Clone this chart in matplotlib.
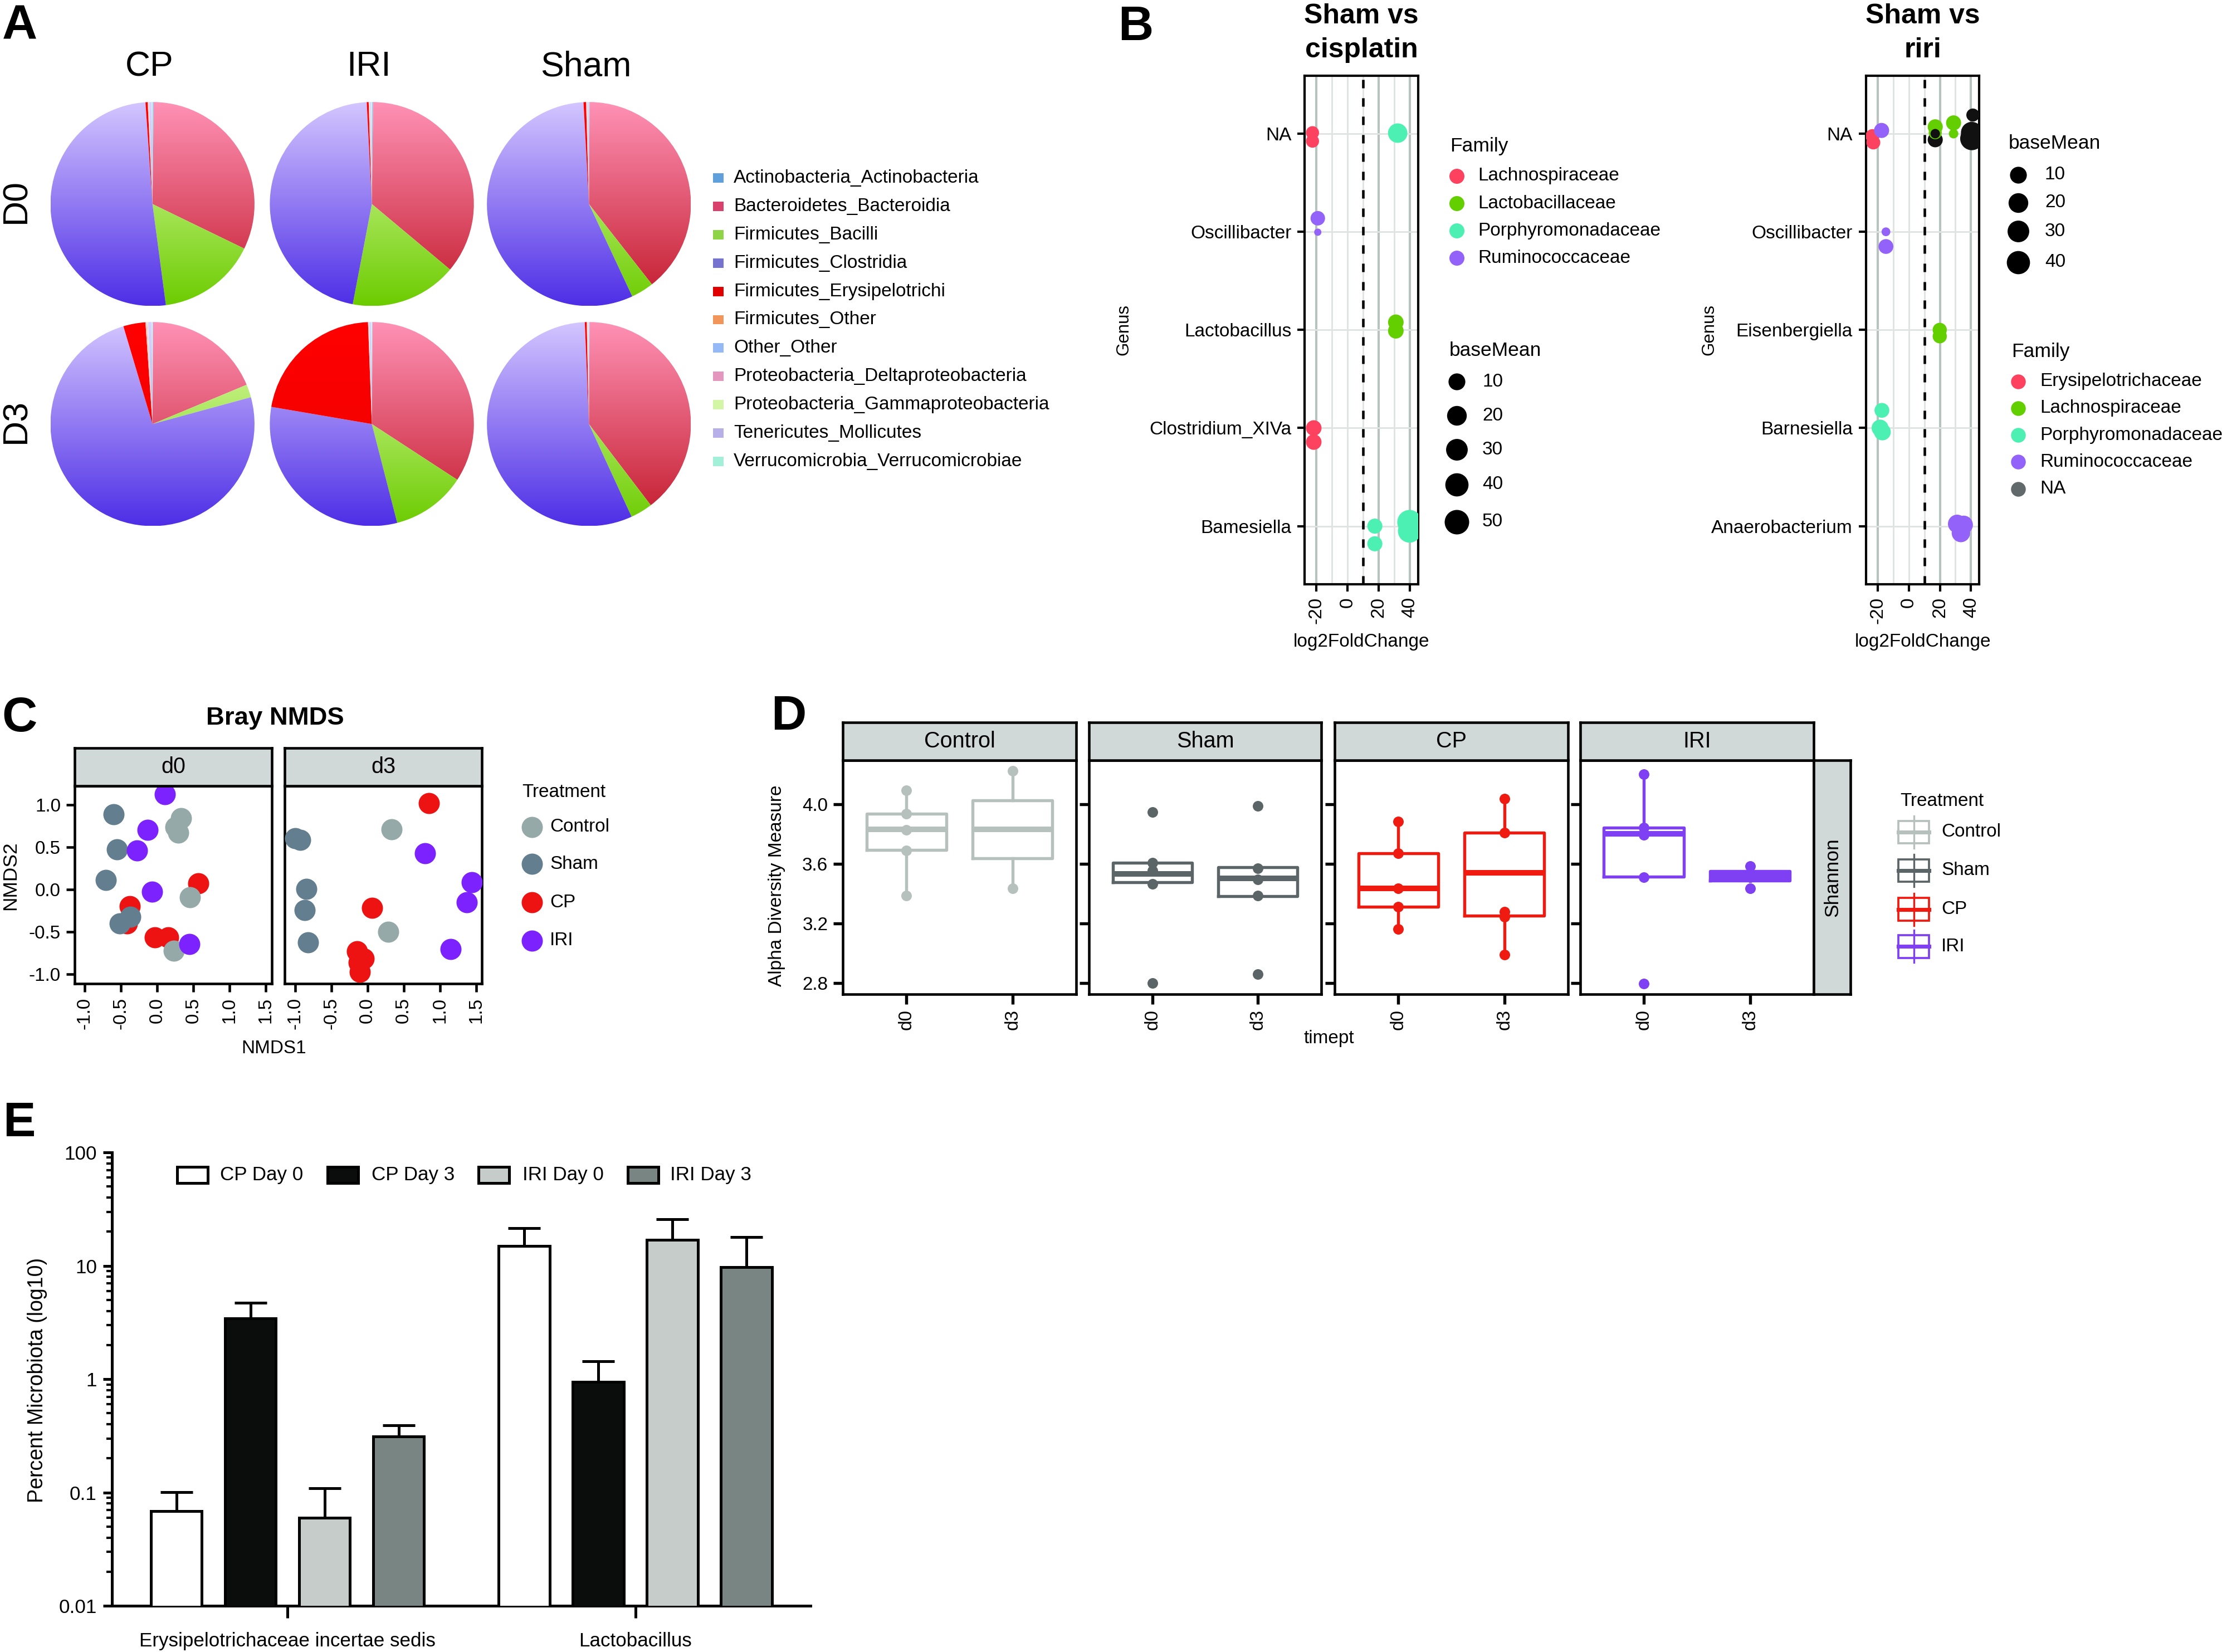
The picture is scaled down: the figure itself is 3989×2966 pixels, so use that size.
import numpy as np
import matplotlib
matplotlib.use("Agg")
import matplotlib.pyplot as plt
from matplotlib import font_manager
from matplotlib.patches import Rectangle
from matplotlib.lines import Line2D
from matplotlib.colors import to_rgb
from matplotlib.ticker import LogLocator, NullFormatter

# ---------------- data ----------------
# A: phylum_class composition (percent), clockwise from 12 o'clock
taxa = ["Actinobacteria_Actinobacteria", "Bacteroidetes_Bacteroidia", "Firmicutes_Bacilli",
        "Firmicutes_Clostridia", "Firmicutes_Erysipelotrichi", "Firmicutes_Other", "Other_Other",
        "Proteobacteria_Deltaproteobacteria", "Proteobacteria_Gammaproteobacteria",
        "Tenericutes_Mollicutes", "Verrucomicrobia_Verrucomicrobiae"]
pie_groups = ["CP", "IRI", "Sham"]
pie_days = ["D0", "D3"]
cp_d0 = [0.2, 32.0, 15.7, 51.0, 0.35, 0.05, 0.05, 0.05, 0.05, 0.45, 0.1]
iri_d0 = [0.2, 35.9, 16.9, 46.2, 0.3, 0.05, 0.05, 0.05, 0.05, 0.2, 0.1]
sham_d0 = [0.1, 39.3, 3.6, 56.1, 0.4, 0.05, 0.05, 0.05, 0.05, 0.2, 0.05]
cp_d3 = [0.1, 18.6, 2.05, 74.6, 3.5, 0.1, 0.1, 0.1, 0.1, 0.6, 0.1]
iri_d3 = [0.1, 34.1, 11.8, 31.7, 21.7, 0.05, 0.05, 0.05, 0.05, 0.3, 0.1]
sham_d3 = [0.1, 39.6, 3.5, 56.3, 0.3, 0.05, 0.05, 0.05, 0.05, 0.1, 0.05]

# B: DESeq2 hits, Sham vs cisplatin
cis_genera = ["NA", "Oscillibacter", "Lactobacillus", "Clostridium_XIVa", "Bamesiella"]
cis_genus = ["NA", "NA", "NA", "Oscillibacter", "Oscillibacter", "Lactobacillus", "Lactobacillus",
             "Clostridium_XIVa", "Clostridium_XIVa", "Bamesiella", "Bamesiella", "Bamesiella", "Bamesiella"]
cis_lfc = [-22.6, -22.6, 32.2, -19.2, -19.2, 31.0, 31.0, -21.8, -21.8, 17.5, 17.5, 39.8, 39.8]
cis_jit = [-0.01, 0.076, -0.006, -0.138, 0.004, -0.078, 0.009, 0.0, 0.143, 0.0, 0.18, -0.04, 0.05]
cis_family = ["Lachnospiraceae", "Lachnospiraceae", "Porphyromonadaceae", "Ruminococcaceae",
              "Ruminococcaceae", "Lactobacillaceae", "Lactobacillaceae", "Lachnospiraceae",
              "Lachnospiraceae", "Porphyromonadaceae", "Porphyromonadaceae", "Porphyromonadaceae",
              "Porphyromonadaceae"]
cis_base = [3, 3, 19, 5, 0.07, 7, 7, 7, 7, 6, 6, 50, 40]
cis_fams = ["Lachnospiraceae", "Lactobacillaceae", "Porphyromonadaceae", "Ruminococcaceae"]
cis_breaks = [10, 20, 30, 40, 50]

# B: Sham vs riri
iri_genera = ["NA", "Oscillibacter", "Eisenbergiella", "Barnesiella", "Anaerobacterium"]
iri_genus = ["NA"] * 12 + ["Oscillibacter", "Oscillibacter", "Eisenbergiella", "Eisenbergiella",
                           "Barnesiella", "Barnesiella", "Barnesiella",
                           "Anaerobacterium", "Anaerobacterium", "Anaerobacterium"]
iri_lfc = [-23.4, -22.8, -17.5, 17.0, 17.0, 17.0, 17.0, 28.8, 28.8, 41.2, 40.5, 40.5,
           -14.7, -14.7, 19.9, 19.9, -17.3, -18.5, -17.0, 31.1, 35.3, 33.5]
iri_jit = [0.024, 0.09, -0.033, 0.062, -0.07, -0.01, 0.0, -0.11, 0.0, -0.19, -0.01, 0.05,
           0.0, 0.15, 0.0, 0.065, -0.18, 0.0, 0.04, -0.023, -0.013, 0.07]
iri_family = ["Erysipelotrichaceae", "Erysipelotrichaceae", "Ruminococcaceae", "NA",
              "Lachnospiraceae", "Lachnospiraceae", "NA", "Lachnospiraceae", "Lachnospiraceae",
              "NA", "NA", "NA", "Ruminococcaceae", "Ruminococcaceae", "Lachnospiraceae",
              "Lachnospiraceae", "Porphyromonadaceae", "Porphyromonadaceae", "Porphyromonadaceae",
              "Ruminococcaceae", "Ruminococcaceae", "Ruminococcaceae"]
iri_base = [4, 4, 6, 6, 6, 3, 0.5, 6, 0.5, 3, 30, 40, 0.3, 5.5, 4.5, 4.5, 5.5, 10, 10, 15, 15, 15]
iri_fams = ["Erysipelotrichaceae", "Lachnospiraceae", "Porphyromonadaceae", "Ruminococcaceae", "NA"]
iri_breaks = [10, 20, 30, 40]

# C: Bray-Curtis NMDS
treatments = ["Control", "Sham", "CP", "IRI"]
d0_control_x = [0.33, 0.25, 0.29, 0.45, 0.23]
d0_control_y = [0.845, 0.74, 0.67, -0.094, -0.724]
d0_sham_x = [-0.60, -0.56, -0.71, -0.37, -0.52]
d0_sham_y = [0.89, 0.476, 0.112, -0.32, -0.40]
d0_cp_x = [-0.38, -0.42, 0.57, -0.03, 0.15]
d0_cp_y = [-0.20, -0.40, 0.073, -0.564, -0.564]
d0_iri_x = [0.107, -0.135, -0.28, -0.073, 0.446]
d0_iri_y = [1.124, 0.703, 0.458, -0.027, -0.645]
d3_control_x = [0.333, 0.288]
d3_control_y = [0.709, -0.503]
d3_sham_x = [-1.0, -0.925, -0.84, -0.87, -0.824]
d3_sham_y = [0.609, 0.588, 0.006, -0.245, -0.624]
d3_cp_x = [0.852, 0.062, -0.147, -0.05, -0.118, -0.107]
d3_cp_y = [1.021, -0.215, -0.73, -0.82, -0.867, -0.973]
d3_iri_x = [0.796, 1.445, 1.37, 1.146]
d3_iri_y = [0.43, 0.088, -0.155, -0.706]

# D: Shannon diversity, box = [whisker low, q1, median, q3, whisker high]
timepts = ["d0", "d3"]
control_box = [[3.388, 3.694, 3.833, 3.937, 4.094], [3.435, 3.637, 3.833, 4.026, 4.224]]
control_pts = [[4.094, 3.937, 3.83, 3.689, 3.388], [4.224, 3.435]]
sham_box = [[3.479, 3.479, 3.532, 3.608, 3.608], [3.385, 3.385, 3.503, 3.579, 3.579]]
sham_pts = [[3.947, 3.608, 3.556, 3.466, 2.80], [3.989, 3.572, 3.496, 3.388, 2.86]]
cp_box = [[3.163, 3.313, 3.438, 3.673, 3.883], [2.993, 3.252, 3.54, 3.811, 4.037]]
cp_pts = [[3.883, 3.673, 3.435, 3.312, 3.163], [4.037, 3.811, 3.279, 3.244, 2.993]]
iri_box = [[3.514, 3.514, 3.802, 3.843, 4.204], [3.485, 3.487, 3.519, 3.553, 3.556]]
iri_pts = [[4.204, 3.843, 3.794, 3.511, 2.798], [3.584, 3.438]]

# E: percent microbiota, mean and SEM
e_genera = ["Erysipelotrichaceae incertae sedis", "Lactobacillus"]
e_series = ["CP Day 0", "CP Day 3", "IRI Day 0", "IRI Day 3"]
cp_day0_mean = [0.069, 15.0]
cp_day0_sem = [0.032, 6.4]
cp_day3_mean = [3.44, 0.945]
cp_day3_sem = [1.30, 0.49]
iri_day0_mean = [0.060, 17.0]
iri_day0_sem = [0.049, 8.7]
iri_day3_mean = [0.312, 9.79]
iri_day3_sem = [0.080, 8.2]

# ---------------- helpers ----------------
SW, SH = 1568.0, 1166.0   # layout measured on a 1568x1166 copy
DPI = 300


def fx(x):
    return x / SW


def fy(y):
    return 1 - y / SH


def box(x0, y0, x1, y1):
    return [fx(x0), fy(y1), (x1 - x0) / SW, (y1 - y0) / SH]


def pt(px):
    return px * 72.0 / DPI


installed = {f.name for f in font_manager.fontManager.ttflist}
REG = "Liberation Sans"
if "Liberation Sans Narrow" in installed:
    NAR, nk = "Liberation Sans Narrow", 1.0
else:
    NAR, nk = "Liberation Sans", 0.84
plt.rcParams["font.family"] = REG
plt.rcParams["axes.linewidth"] = 1.0

fig = plt.figure(figsize=(3989 / DPI, 2966 / DPI), dpi=DPI)


def ftext(x, y, s, **kw):
    kw.setdefault("ha", "center")
    kw.setdefault("va", "center")
    fig.text(fx(x), fy(y), s, **kw)


def frect(x0, y0, x1, y1, **kw):
    fig.add_artist(Rectangle((fx(x0), fy(y1)), (x1 - x0) / SW, (y1 - y0) / SH,
                             transform=fig.transFigure, **kw))


def fline(xs, ys, **kw):
    fig.add_artist(Line2D([fx(v) for v in xs], [fy(v) for v in ys],
                          transform=fig.transFigure, **kw))


def fdot(x, y, d_px, color):
    fig.add_artist(Line2D([fx(x)], [fy(y)], marker="o", ms=pt(d_px), mfc=color, mec="none",
                          ls="none", transform=fig.transFigure))


def strip(x0, y0, x1, y1, label, rot=0, size=9.5, family=None):
    s = fig.add_axes(box(x0, y0, x1, y1))
    s.set_facecolor("#d1d9d8")
    s.set_xticks([])
    s.set_yticks([])
    for sp in s.spines.values():
        sp.set_linewidth(1.1)
    s.text(0.5, 0.5, label, ha="center", va="center", rotation=rot, fontsize=size,
           family=family or NAR, transform=s.transAxes)


# panel letters
for letter, x, y in [("A", 1.5, 18.6), ("B", 789, 19.5), ("C", 1.5, 507.5),
                     ("D", 544, 506), ("E", 2, 793)]:
    ftext(x, y, letter, ha="left", fontsize=21, fontweight="bold")

# ---------------- A: pies ----------------
tax_top = ["#a4ccf2", "#ff92b6", "#e4ffb4", "#d4c6ff", "#ff0000", "#ffb488", "#c6dcff",
           "#f8b6d4", "#ecffcc", "#dcd2ff", "#c4fff2"]
tax_bot = ["#3a76c0", "#c21a2a", "#6ccc00", "#4e2ee6", "#ee0000", "#e06c2c", "#7ea6ef",
           "#d67eae", "#bcee8c", "#a494de", "#7ce6c6"]
tax_key = ["#5f9fdc", "#d9406c", "#8fd446", "#7672d0", "#e00000", "#f2955a", "#95b9f6",
           "#e596bf", "#d2f6a6", "#b7b0e8", "#a2f0d8"]
pie_rows = [[cp_d0, iri_d0, sham_d0], [cp_d3, iri_d3, sham_d3]]
pie_cx = [107.6, 262.4, 415.6]
pie_cy = [144.0, 299.3]
PR = 72.0
grad = np.linspace(0, 1, 256)[:, None, None]
for r, day in enumerate(pie_days):
    for c, grp in enumerate(pie_groups):
        ax = fig.add_axes(box(pie_cx[c] - PR, pie_cy[r] - PR, pie_cx[c] + PR, pie_cy[r] + PR))
        wedges, _ = ax.pie(pie_rows[r][c], startangle=90, counterclock=False, radius=1.0,
                           wedgeprops=dict(linewidth=0))
        for w, top, bot in zip(wedges, tax_top, tax_bot):
            img = (1 - grad) * np.array(to_rgb(top)) + grad * np.array(to_rgb(bot))
            im = ax.imshow(img, extent=(-1, 1, -1, 1), origin="upper", aspect="auto",
                           interpolation="bilinear", zorder=2)
            im.set_clip_path(w)
            w.set_facecolor("none")
        ax.set_xlim(-1, 1)
        ax.set_ylim(-1, 1)
        ax.axis("off")
for c, grp in enumerate(pie_groups):
    ftext(pie_cx[c] - 2, 47, grp, fontsize=15)
for r, day in enumerate(pie_days):
    ftext(11.4, pie_cy[r] - 2, day, fontsize=15, rotation=90)
for i, t in enumerate(taxa):
    y = 125.7 + 19.99 * i
    frect(503, y - 3.3, 510.8, y + 3.3, facecolor=tax_key[i], edgecolor="none")
    ftext(517.7, y, t, ha="left", fontsize=8)

# ---------------- B: log2 fold change dot plots ----------------
fam_pal = ["#fd4260", "#63cf00", "#4cf0b2", "#9362f8", "#62696a"]
na_dot = "#111111"


def bm_px(m):
    return 8 + 36 * (m / 50.0) ** 0.3


def volcano(x0, x1, genera, genus, lfc, jit, fam, base, fam_names, title):
    ax = fig.add_axes(box(x0, 53.5, x1, 412.2))
    ypos = [genera.index(g) + j for g, j in zip(genus, jit)]
    cols = [na_dot if f == "NA" else fam_pal[fam_names.index(f)] for f in fam]
    ax.scatter(lfc, ypos, s=[pt(bm_px(m)) ** 2 for m in base], c=cols, linewidths=0, zorder=4)
    for v in (-20, 20, 40):
        ax.axvline(v, color="#b8c3bf", lw=1.0, zorder=1)
    for v in (-10, 0, 10, 30):
        ax.axvline(v, color="#dfe4e2", lw=0.7, zorder=1)
    for i in range(len(genera)):
        ax.axhline(i, color="#dfe4e2", lw=0.7, zorder=1)
    ax.axvline(10, color="black", lw=1.1, ls=(0, (3.3, 3.9)), zorder=3)
    ax.set_xlim(-27.6, 45.4)
    ax.set_ylim(len(genera) - 0.41, -0.59)
    ax.set_yticks(range(len(genera)), genera, fontsize=8)
    ax.set_xticks([-20, 0, 20, 40], ["-20", "0", "20", "40"], rotation=90, fontsize=8)
    ax.tick_params(length=3.2, width=1.0, pad=2.5)
    cx = (x0 + x1) / 2
    ftext(cx, 16.5, title[0], va="baseline", fontsize=12, fontweight="bold")
    ftext(cx, 40.6, title[1], va="baseline", fontsize=12, fontweight="bold")
    ftext(cx, 453, "log2FoldChange", fontsize=8)
    return ax


volcano(920.7, 1000.8, cis_genera, cis_genus, cis_lfc, cis_jit, cis_family, cis_base,
        cis_fams, ("Sham vs", "cisplatin"))
ftext(793, 232.9, "Genus", rotation=90, fontsize=7.5)
volcano(1316.7, 1396.8, iri_genera, iri_genus, iri_lfc, iri_jit, iri_family, iri_base,
        iri_fams, ("Sham vs", "riri"))
ftext(1206, 232.9, "Genus", rotation=90, fontsize=7.5)

# legends for B
ftext(1023.3, 103, "Family", ha="left", fontsize=8.5)
for i, f in enumerate(cis_fams):
    y = 124.2 + 19.3 * i
    fdot(1028, y, 27, fam_pal[i])
    ftext(1043, y, f, ha="left", fontsize=8)
ftext(1022.5, 247.3, "baseMean", ha="left", fontsize=8.5)
for y, m in zip([269.3, 293.3, 317.4, 342.0, 368.2], cis_breaks):
    fdot(1028, y, bm_px(m), "black")
    ftext(1046, y, str(m), ha="left", fontsize=8)

ftext(1417.5, 101.4, "baseMean", ha="left", fontsize=8.5)
for y, m in zip([123.3, 142.9, 163.3, 185.0], iri_breaks):
    fdot(1424, y, bm_px(m), "black")
    ftext(1443, y, str(m), ha="left", fontsize=8)
ftext(1419.3, 248.2, "Family", ha="left", fontsize=8.5)
for i, f in enumerate(iri_fams):
    y = 269.2 + 18.95 * i
    fdot(1424.3, y, 26.5, fam_pal[i])
    ftext(1439.5, y, f, ha="left", fontsize=8)

# ---------------- C: NMDS ----------------
c_cols = {"Control": "#95a9a8", "Sham": "#627e8f", "CP": "#ed1313", "IRI": "#7b22fe"}
c_days = [
    {"Control": (d0_control_x, d0_control_y), "Sham": (d0_sham_x, d0_sham_y),
     "CP": (d0_cp_x, d0_cp_y), "IRI": (d0_iri_x, d0_iri_y)},
    {"Control": (d3_control_x, d3_control_y), "Sham": (d3_sham_x, d3_sham_y),
     "CP": (d3_cp_x, d3_cp_y), "IRI": (d3_iri_x, d3_iri_y)},
]
c_pan = [(52.7, 191.7), (201.0, 340.0)]
c_dot = pt(38) ** 2
for k, day in enumerate(timepts):
    x0, x1 = c_pan[k]
    ax = fig.add_axes(box(x0, 554.8, x1, 694.3))
    for t in ["CP", "Control", "Sham", "IRI"]:
        xs, ys = c_days[k][t]
        ax.scatter(xs, ys, s=c_dot, color=c_cols[t], linewidths=0, zorder=3)
    ax.set_xlim(-1.141, 1.58)
    ax.set_ylim(-1.115, 1.224)
    ax.set_xticks([-1.0, -0.5, 0.0, 0.5, 1.0, 1.5],
                  ["-1.0", "-0.5", "0.0", "0.5", "1.0", "1.5"], rotation=90,
                  fontsize=9.5 * nk, family=NAR)
    if k == 0:
        ax.set_yticks([-1.0, -0.5, 0.0, 0.5, 1.0], ["-1.0", "-0.5", "0.0", "0.5", "1.0"],
                      fontsize=9.5 * nk, family=NAR)
    else:
        ax.set_yticks([])
    ax.tick_params(length=3.5, width=1.1, pad=2.5)
    for sp in ax.spines.values():
        sp.set_linewidth(1.1)
    strip(x0, 528, x1, 554.8, day)
ftext(194, 507, "Bray NMDS", fontsize=13 * nk, fontweight="bold", family=NAR)
ftext(193.2, 740, "NMDS1", fontsize=9.5 * nk, family=NAR)
ftext(7.2, 618, "NMDS2", rotation=90, fontsize=8.5)
ftext(368.5, 559.3, "Treatment", ha="left", fontsize=9.5 * nk, family=NAR)
for y, t in zip([583.6, 609.8, 636.9, 663.8], treatments):
    fdot(375.5, y, 38, c_cols[t])
    ftext(388, y, t, ha="left", fontsize=9.5 * nk, family=NAR)

# ---------------- D: alpha diversity ----------------
d_cols = ["#b6c0bd", "#5b6466", "#ef1a10", "#7f3ff3"]
d_boxes = [control_box, sham_box, cp_box, iri_box]
d_pts = [control_pts, sham_pts, cp_pts, iri_pts]
d_pan = [(594.7, 759.4), (768.5, 932.4), (941.8, 1106.5), (1115.0, 1280.0)]
for k, t in enumerate(treatments):
    x0, x1 = d_pan[k]
    col = d_cols[k]
    ax = fig.add_axes(box(x0, 536.6, x1, 701.8))
    stats = [dict(whislo=b[0], q1=b[1], med=b[2], q3=b[3], whishi=b[4], fliers=[])
             for b in d_boxes[k]]
    parts = ax.bxp(stats, positions=[1, 2], widths=0.75, showcaps=False, showfliers=False,
                   boxprops=dict(color=col, lw=1.3), whiskerprops=dict(color=col, lw=1.3),
                   medianprops=dict(color=col, lw=2.4, solid_capstyle="butt"),
                   manage_ticks=False)
    # very narrow boxes render as a solid bar in the original
    for b, med in zip(d_boxes[k], parts["medians"]):
        if b[3] - b[1] < 0.08:
            med.set_linewidth(5.0)
    for j, vals in enumerate(d_pts[k]):
        ax.scatter([j + 1] * len(vals), vals, s=pt(19) ** 2, color=col, linewidths=0, zorder=4)
    ax.set_xlim(0.4, 2.6)
    ax.set_ylim(2.7255, 4.296)
    ax.set_xticks([1, 2], timepts, rotation=90, fontsize=9.5 * nk, family=NAR)
    ax.set_yticks([2.8, 3.2, 3.6, 4.0])
    if k == 0:
        ax.set_yticklabels(["2.8", "3.2", "3.6", "4.0"], fontsize=9.5 * nk, family=NAR)
    else:
        ax.set_yticklabels([])
    ax.tick_params(length=4.2, width=1.3, pad=2.2)
    for sp in ax.spines.values():
        sp.set_linewidth(1.1)
    strip(x0, 509.8, x1, 536.6, t)
strip(1280.0, 536.6, 1306.0, 701.8, "Shannon", rot=90, size=8.5, family=REG)
ftext(548.2, 625, "Alpha Diversity Measure", rotation=90, fontsize=8)
ftext(937.8, 732.9, "timept", fontsize=9.5 * nk, family=NAR)
ftext(1341, 565.4, "Treatment", ha="left", fontsize=9.5 * nk, family=NAR)
for y, t, col in zip([587.3, 614.4, 641.9, 668.0], treatments, d_cols):
    fline([1350.5, 1350.5], [y - 11.5, y + 11.5], color=col, lw=0.8)
    frect(1339.8, y - 8, 1361.2, y + 8, fill=False, edgecolor=col, lw=0.9)
    fline([1339.8, 1361.2], [y, y], color=col, lw=1.7)
    ftext(1370, y, t, ha="left", fontsize=9.5 * nk, family=NAR)

# ---------------- E: bar chart ----------------
e_means = [cp_day0_mean, cp_day3_mean, iri_day0_mean, iri_day3_mean]
e_sems = [cp_day0_sem, cp_day3_sem, iri_day0_sem, iri_day3_sem]
e_cols = ["#ffffff", "#0b0d0c", "#c6ccc9", "#788583"]
ax = fig.add_axes(box(79.0, 813.4, 572.0, 1133.5))
xg = np.arange(len(e_genera))
for i in range(len(e_series)):
    xs = xg + (i - 1.5) * 0.213
    ax.errorbar(xs, e_means[i], yerr=[np.zeros(len(xg)), e_sems[i]], fmt="none", ecolor="black",
                elinewidth=1.2, capsize=7, capthick=1.2, zorder=2)
    ax.bar(xs, e_means[i], width=0.146, color=e_cols[i], edgecolor="black", lw=1.2, zorder=3)
ax.set_yscale("log")
ax.set_ylim(0.01, 100)
ax.set_xlim(-0.505, 1.504)
ax.set_yticks([0.01, 0.1, 1, 10, 100], ["0.01", "0.1", "1", "10", "100"],
              fontsize=10 * nk, family=NAR)
ax.yaxis.set_minor_locator(LogLocator(base=10, subs=np.arange(2, 10)))
ax.yaxis.set_minor_formatter(NullFormatter())
ax.set_xticks(xg, e_genera, fontsize=10 * nk, family=NAR)
ax.tick_params(axis="y", which="major", length=3.9, width=1.2, pad=2.6)
ax.tick_params(axis="y", which="minor", length=2.3, width=1.0)
ax.tick_params(axis="x", length=5.3, width=1.2, pad=6)
for s in ("top", "right"):
    ax.spines[s].set_visible(False)
for s in ("left", "bottom"):
    ax.spines[s].set_linewidth(1.2)
ftext(26.3, 974, "Percent Microbiota (log10)", rotation=90, fontsize=9)
for (sx, tx), lab, col in zip([(125, 155.3), (231, 262), (337.7, 368.6), (443, 473)],
                              e_series, e_cols):
    frect(sx, 823.6, sx + 21.7, 835.0, facecolor=col, edgecolor="black", lw=1.2)
    ftext(tx, 829.3, lab, ha="left", fontsize=10 * nk, family=NAR)

fig.savefig("out.png", dpi=DPI)
